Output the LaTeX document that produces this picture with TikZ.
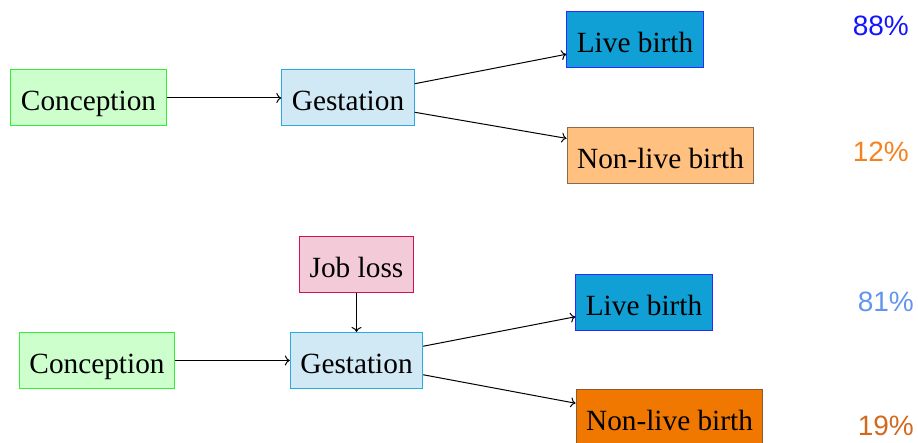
\documentclass[tikz,border=0pt]{standalone}
\usepackage{fontspec}
\setmainfont{Liberation Serif}
\newfontfamily\pctfont{Liberation Sans}
\usetikzlibrary{calc,arrows.meta}
\definecolor{cfill}{HTML}{CCFFCC}
\definecolor{cdraw}{HTML}{33EE33}
\definecolor{gfill}{HTML}{D1E8F5}
\definecolor{gdraw}{HTML}{2AAAE0}
\definecolor{lfill}{HTML}{10A0D5}
\definecolor{ldraw}{HTML}{2828FF}
\definecolor{nfill}{HTML}{FFC080}
\definecolor{ndraw}{HTML}{8B6A4A}
\definecolor{nfillb}{HTML}{F07800}
\definecolor{ndrawb}{HTML}{8B5A2B}
\definecolor{jfill}{HTML}{F3CAD8}
\definecolor{jdraw}{HTML}{D0105A}
\definecolor{pa}{HTML}{1414FF}
\definecolor{pb}{HTML}{F58220}
\definecolor{pc}{HTML}{6495ED}
\definecolor{pd}{HTML}{D2691E}
\begin{document}
\begin{tikzpicture}[x=1pt,y=-1pt,
  box/.style={draw,line width=1pt,inner xsep=10pt,minimum height=56pt,
    text height=32pt,text depth=6pt,font=\fontsize{29.3}{34}\selectfont},
  pct/.style={anchor=base east,inner sep=0pt,font=\pctfont\fontsize{28}{32}\selectfont},
  arr/.style={-{To[length=5pt,width=10pt]},line width=1pt}]
\useasboundingbox (0,0) rectangle (918,443);
% top
\node[box,fill=cfill,draw=cdraw] (c1) at (88.5,98) {Conception};
\node[box,fill=gfill,draw=gdraw] (g1) at (348,98) {Gestation};
\node[box,fill=lfill,draw=ldraw] (l1) at (635,40) {Live birth};
\node[box,fill=nfill,draw=ndraw] (n1) at (660.5,155.5) {Non-live birth};
\node[pct,text=pa] (p1) at (909,35.7) {88\%};
\node[pct,text=pb] (p2) at (909,161.7) {12\%};
\draw[arr] (c1) -- (g1);
\draw[arr] ($(g1.east)!0.5!(g1.north east)$) -- ($(l1.west)!0.5!(l1.south west)$);
\draw[arr] ($(g1.east)!0.5!(g1.south east)$) -- ($(n1.west)!0.6!(n1.north west)$);
% bottom
\node[box,fill=jfill,draw=jdraw] (j2) at (356.5,264.5) {Job loss};
\node[box,fill=cfill,draw=cdraw] (c2) at (97,360.5) {Conception};
\node[box,fill=gfill,draw=gdraw] (g2) at (356.5,360.5) {Gestation};
\node[box,fill=lfill,draw=ldraw] (l2) at (644,302.5) {Live birth};
\node[box,fill=nfillb,draw=ndrawb] (n2) at (669.5,417.5) {Non-live birth};
\node[pct,text=pc] (p3) at (914,311.7) {81\%};
\node[pct,text=pd] (p4) at (914,435) {19\%};
\draw[arr] (c2) -- (g2);
\draw[arr] (j2.south) -- (g2.north);
\draw[arr] ($(g2.east)!0.5!(g2.north east)$) -- ($(l2.west)!0.5!(l2.south west)$);
\draw[arr] ($(g2.east)!0.5!(g2.south east)$) -- ($(n2.west)!0.5!(n2.north west)$);
\end{tikzpicture}
\end{document}
